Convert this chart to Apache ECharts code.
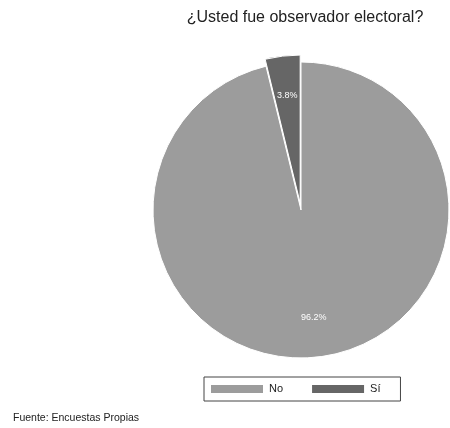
<!DOCTYPE html>
<html>
<head>
<meta charset="utf-8">
<script src="https://cdn.jsdelivr.net/npm/echarts@6/dist/echarts.min.js"></script>
<style>
  html, body { margin: 0; padding: 0; background: #fff; }
  #chart { width: 450px; height: 428px; }
</style>
</head>
<body>
<div id="chart"></div>
<script>
// datos de la encuesta
var categorias = ['Sí', 'No']
var porcentajes = [3.8, 96.2]
var colores = ['#666666', '#9c9c9c']

var chart = echarts.init(document.getElementById('chart'))

function datos(transparente) {
  return categorias.map(function (c, i) {
    return {
      name: c,
      value: porcentajes[i],
      selected: c === 'Sí',
      itemStyle: { color: transparente ? 'rgba(0,0,0,0)' : colores[i] }
    }
  })
}

var centro = [301, 210]
var radio = 148

chart.setOption({
  animation: false,
  title: {
    text: '¿Usted fue observador electoral?',
    left: 300,
    top: 5,
    textAlign: 'center',
    textStyle: {
      fontFamily: 'Liberation Sans',
      fontSize: 16,
      fontWeight: 'normal',
      color: '#222'
    }
  },
  legend: {
    data: ['No', 'Sí'],
    left: 204,
    top: 377,
    itemWidth: 54,
    itemHeight: 10,
    itemGap: 27,
    padding: [6, 20, 6, 5],
    borderColor: '#444',
    borderWidth: 1,
    borderRadius: 0,
    icon: 'rect',
    textStyle: { fontFamily: 'Liberation Sans', fontSize: 11, color: '#222' }
  },
  graphic: [{
    type: 'text',
    left: 13,
    top: 413,
    style: {
      text: 'Fuente: Encuestas Propias',
      font: '10.5px "Liberation Sans"',
      fill: '#222'
    }
  }],
  series: [{
    type: 'pie',
    center: centro,
    radius: radio,
    startAngle: 90,
    clockwise: false,
    selectedMode: 'single',
    selectedOffset: 7,
    label: { show: false },
    labelLine: { show: false },
    itemStyle: { borderColor: '#fff', borderWidth: 1 },
    emphasis: { disabled: true },
    data: datos(false)
  }, {
    // capa solo para las etiquetas, más hacia el borde
    type: 'pie',
    silent: true,
    center: centro,
    radius: [62, radio],
    startAngle: 90,
    clockwise: false,
    selectedMode: 'single',
    selectedOffset: 7,
    label: {
      position: 'inside',
      formatter: '{c}%',
      color: '#fff',
      fontFamily: 'Liberation Sans',
      fontSize: 9
    },
    labelLine: { show: false },
    emphasis: { disabled: true },
    data: datos(true)
  }]
})
</script>
</body>
</html>
